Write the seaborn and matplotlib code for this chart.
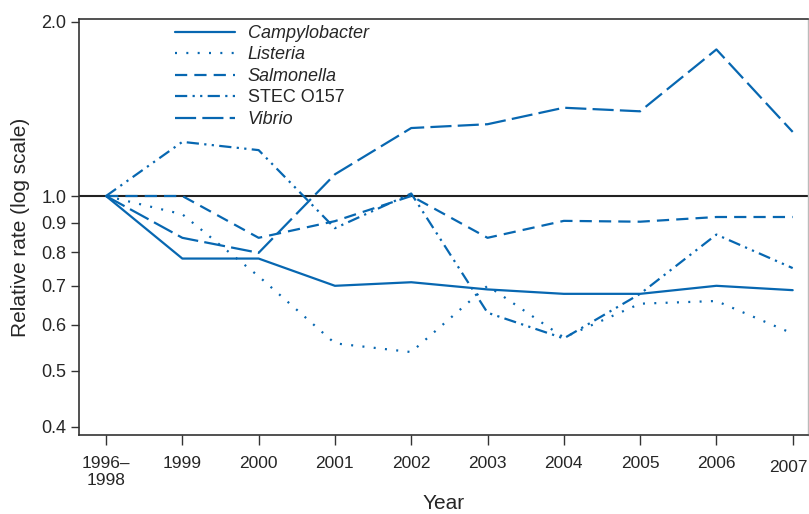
import matplotlib
matplotlib.use("Agg")
import matplotlib.pyplot as plt
import matplotlib.ticker as mticker
import matplotlib.transforms as mtransforms
import seaborn as sns
import pandas as pd

years = ["1996–\n1998", "1999", "2000", "2001", "2002", "2003", "2004", "2005", "2006", "2007"]
campylobacter = [1.0, 0.78, 0.78, 0.70, 0.71, 0.69, 0.678, 0.678, 0.70, 0.688]
listeria = [1.0, 0.93, 0.727, 0.557, 0.538, 0.70, 0.57, 0.652, 0.659, 0.579]
salmonella = [1.0, 1.0, 0.847, 0.905, 1.0, 0.847, 0.906, 0.903, 0.92, 0.92]
stec = [1.0, 1.24, 1.20, 0.88, 1.01, 0.629, 0.568, 0.678, 0.858, 0.751]
vibrio = [1.0, 0.847, 0.798, 1.09, 1.31, 1.33, 1.42, 1.40, 1.79, 1.29]
names = ["Campylobacter", "Listeria", "Salmonella", "STEC O157", "Vibrio"]
yticks = [0.4, 0.5, 0.6, 0.7, 0.8, 0.9, 1.0, 2.0]

series = [campylobacter, listeria, salmonella, stec, vibrio]
rows = []
for n, vals in zip(names, series):
    for i, v in enumerate(vals):
        rows.append({"pathogen": n, "idx": i, "value": v})
df = pd.DataFrame(rows)

sns.set_style("ticks")
plt.rcParams["font.family"] = ["Liberation Sans", "DejaVu Sans"]

blue = "#0767b1"
styles = {
    "Campylobacter": "-",
    "Listeria": (0, (0.9, 4.2)),
    "Salmonella": (0, (5.5, 3.2)),
    "STEC O157": (0, (5.5, 2.4, 1.0, 2.4, 1.0, 2.4)),
    "Vibrio": (0, (9.5, 2.8)),
}

fig = plt.figure(figsize=(8.09, 5.14), dpi=100)
ax = fig.add_axes([0.0977, 0.1537, 0.901, 0.8093])

ax.axhline(1.0, color="#222222", lw=1.5, zorder=1)
for n in names:
    sub = df[df["pathogen"] == n]
    sns.lineplot(data=sub, x="idx", y="value", ax=ax, color=blue, lw=1.6,
                 linestyle=styles[n], label=n, zorder=3)

ax.set_yscale("log")
ax.set_ylim(0.387, 2.02)
ax.set_xlim(-0.354, 9.2)
ax.yaxis.set_major_locator(mticker.FixedLocator(yticks))
ax.yaxis.set_major_formatter(mticker.FixedFormatter([f"{t:.1f}" for t in yticks]))
ax.yaxis.set_minor_locator(mticker.NullLocator())
ax.set_xticks(range(len(years)))
ax.set_xticklabels(years, fontsize=12.5)
ax.tick_params(axis="y", labelsize=13, length=6, width=1, color="#333333", pad=3)
ax.tick_params(axis="x", length=7, width=1, color="#333333", pad=8)
ax.set_xlabel("Year", fontsize=15, labelpad=4)
ax.set_ylabel("Relative rate (log scale)", fontsize=15, labelpad=8)

for s in ["left", "bottom", "top"]:
    ax.spines[s].set_color("#333333")
    ax.spines[s].set_linewidth(1.2)
ax.spines["right"].set_color("#bbbbbb")
ax.spines["right"].set_linewidth(1.0)

leg = ax.legend(loc="upper left", bbox_to_anchor=(0.11, 1.025), frameon=False,
                fontsize=13, handlelength=3.3, handletextpad=0.7, labelspacing=0.25)
for t in leg.get_texts():
    if t.get_text() != "STEC O157":
        t.set_style("italic")

shift = mtransforms.ScaledTranslation(-4 / 100, -4 / 100, fig.dpi_scale_trans)
for lbl in ax.get_xticklabels():
    if lbl.get_text() == "2007":
        lbl.set_transform(lbl.get_transform() + shift)

fig.savefig("out.png", dpi=100)
